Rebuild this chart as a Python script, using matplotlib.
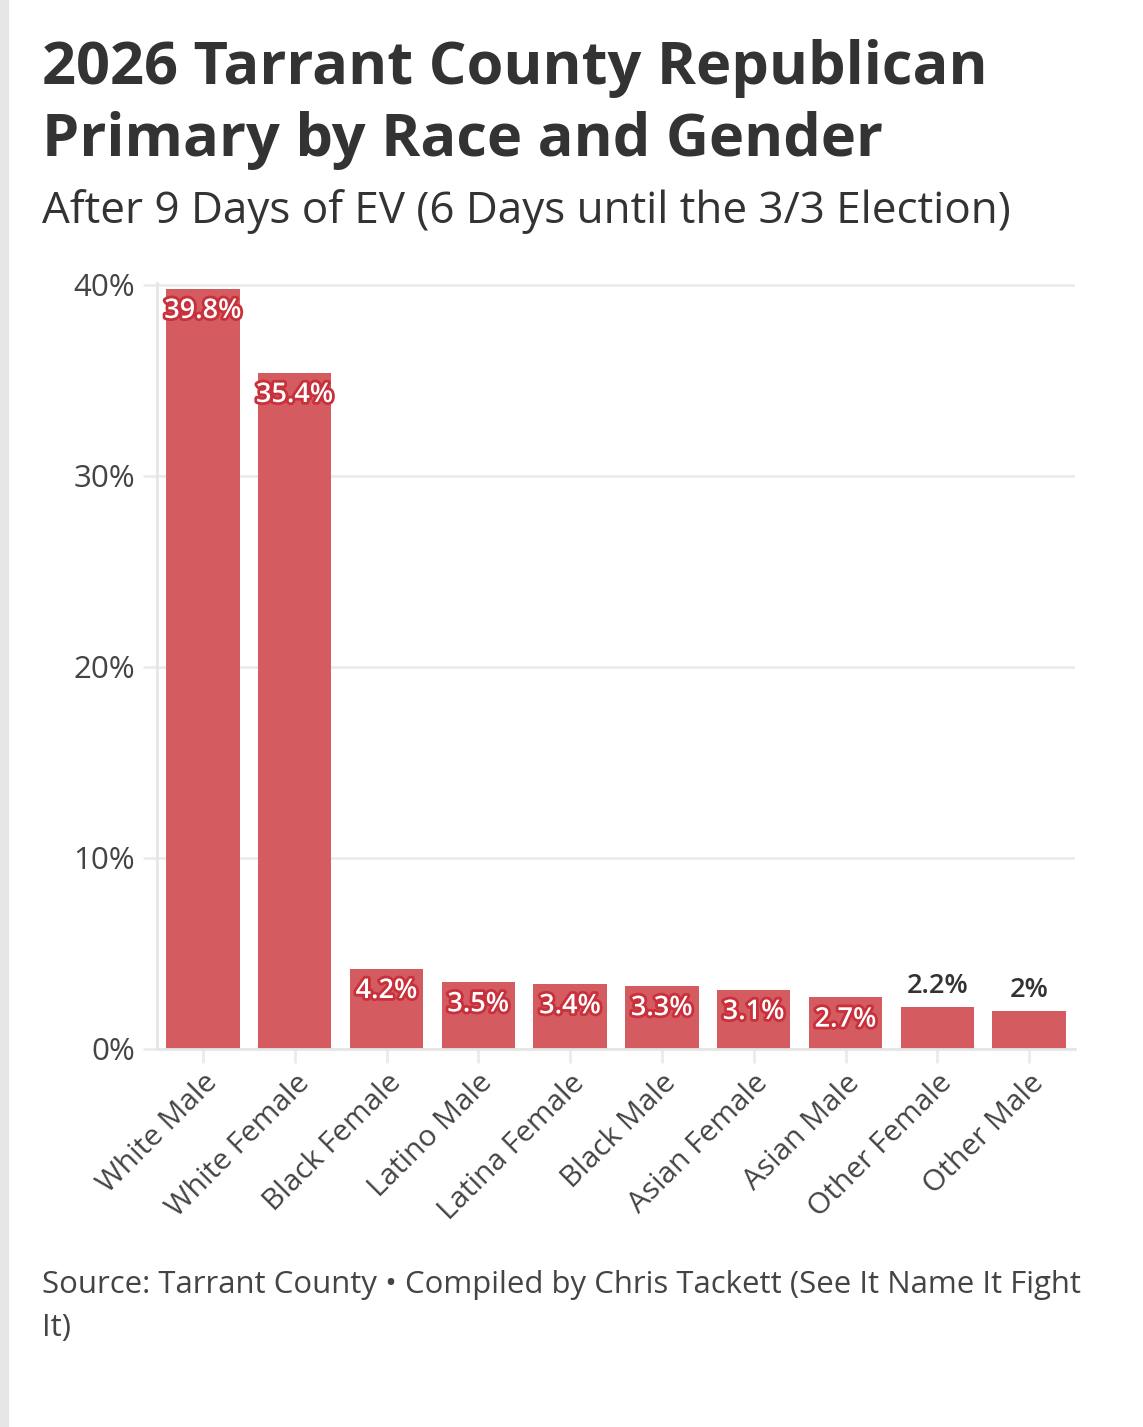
import numpy as np
import matplotlib.pyplot as plt
import matplotlib.patheffects as pe
from matplotlib.patches import Rectangle

# data
categories = ["White Male", "White Female", "Black Female", "Latino Male", "Latina Female",
              "Black Male", "Asian Female", "Asian Male", "Other Female", "Other Male"]
shares = [39.8, 35.4, 4.2, 3.5, 3.4, 3.3, 3.1, 2.7, 2.2, 2.0]
value_labels = ["39.8%", "35.4%", "4.2%", "3.5%", "3.4%", "3.3%", "3.1%", "2.7%", "2.2%", "2%"]
yticks = [0, 10, 20, 30, 40]
ytick_labels = ["0%", "10%", "20%", "30%", "40%"]

plt.rcParams['font.family'] = ['Open Sans', 'DejaVu Sans']

bar_col = '#d45b60'
edge_red = '#c8303b'
dark = '#333333'
grid_col = '#ebebeb'

fig = plt.figure(figsize=(11.43, 14.27), dpi=100)
fig.patches.append(Rectangle((0, 0), 8/1143, 1, transform=fig.transFigure, color='#e6e6e6', zorder=0))

ax = fig.add_axes([157/1143, 1 - 1049/1427, (1075-157)/1143, (1049-283)/1427])

x = np.arange(len(categories))
ax.bar(x, shares, width=0.8, color=bar_col, zorder=2)

ax.set_xlim(-0.5, 9.5)
ax.set_ylim(0, 40.1)
ax.set_yticks(yticks)
ax.set_yticklabels(ytick_labels)
ax.set_xticks(x)
ax.set_xticklabels(categories, rotation=45, ha='right', rotation_mode='anchor')

ax.grid(axis='y', color=grid_col, lw=2, zorder=0)
ax.grid(axis='x', visible=False)
for s in ['top', 'right']:
    ax.spines[s].set_visible(False)
ax.spines['left'].set_color('#e6e6e6')
ax.spines['left'].set_linewidth(2)
ax.spines['bottom'].set_color('#e6e6e6')
ax.spines['bottom'].set_linewidth(2)
ax.tick_params(axis='y', length=10, width=2, color=grid_col, labelsize=22.5, labelcolor='#444444', pad=6)
ax.tick_params(axis='x', length=10, width=2, color=grid_col, labelsize=21.5, labelcolor='#444444', pad=4)

for i, v in enumerate(shares):
    if v > 2.5:
        t = ax.annotate(value_labels[i], xy=(i, v), xytext=(0, -16), textcoords='offset points',
                        ha='center', va='center', fontsize=19.5, fontweight='semibold', color='white', zorder=3)
        t.set_path_effects([pe.withStroke(linewidth=4, foreground=edge_red)])
    else:
        ax.annotate(value_labels[i], xy=(i, v), xytext=(0, 15), textcoords='offset points',
                    ha='center', va='center', fontsize=19.5, fontweight='semibold', color=dark, zorder=3)

fig.text(42/1143, 1 - 68/1427, "2026 Tarrant County Republican",
         fontsize=42.8, fontweight='bold', color=dark, va='center')
fig.text(42/1143, 1 - 140/1427, "Primary by Race and Gender",
         fontsize=42.8, fontweight='bold', color=dark, va='center')
fig.text(42/1143, 1 - 212/1427, "After 9 Days of EV (6 Days until the 3/3 Election)",
         fontsize=31.7, color=dark, va='center')
fig.text(42/1143, 1 - 1285/1427, "Source: Tarrant County \u2022 Compiled by Chris Tackett (See It Name It Fight",
         fontsize=22.4, color='#444444', va='center')
fig.text(42/1143, 1 - 1328/1427, "It)", fontsize=22.4, color='#444444', va='center')

fig.savefig('out.png', dpi=100, facecolor='white')
